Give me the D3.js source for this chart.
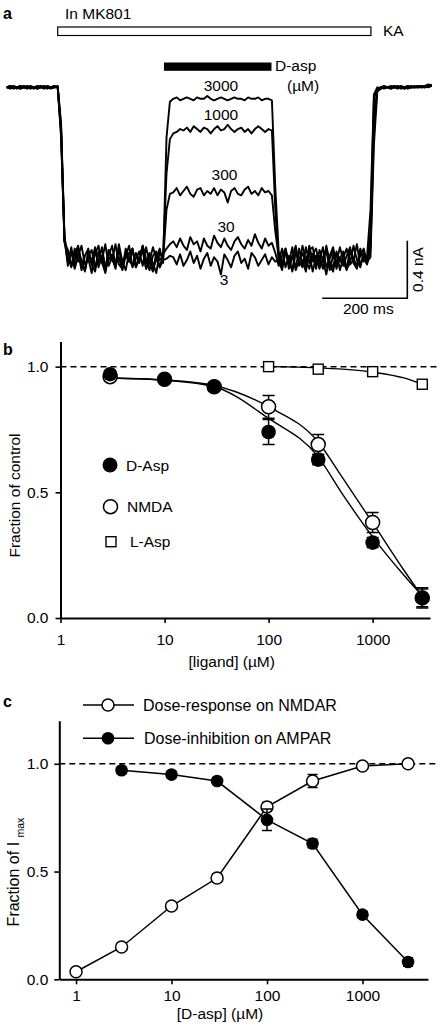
<!DOCTYPE html>
<html><head><meta charset="utf-8">
<script src="https://cdn.jsdelivr.net/npm/d3@7"></script>
<style>
body{margin:0;background:#fff}
svg{display:block}
text{font-family:"Liberation Sans",Arial,Helvetica,sans-serif;font-size:15.5px;fill:#000}
</style>
</head><body>
<svg id="fig" width="442" height="1026"></svg>
<script>
// ---------------- Panel a: current traces (units of 10 pA, one sample every 8 ms) ----------------
const traceStepMs = 8;
const trace3000 = [0,1,0,-1,0,1,0,0,-1,0,1,0,-1,0,1,0,
 -35,-108,
 -113,-124,-116,-110,-122,-127,-114,-121,-111,-125,-117,-128,-113,-120,-109,-123,-126,-115,-121,-112,-125,-118,-110,-123,-115,-127,-119,-112,-122,
 -35,-10,
 -8,-7,-9,-8,-7,-8,-9,-7,-8,-8,-6,-8,-9,-8,-7,-8,-9,-8,-7,-8,-8,-9,-7,-8,-8,-7,-9,-8,-8,-9,
 -70,
 -114,-123,-112,-126,-118,-110,-124,-120,-128,-113,-111,-123,-117,-126,-110,-121,-125,-114,-127,-118,-112,-123,-120,-109,-124,-116,-122,
 -100,-8,
 -1,0,1,0,0,1,0,-1,0,1,0,0,1,0,1,2,1];
const trace1000 = [0,0,1,0,-1,0,0,1,0,-1,0,0,1,0,0,0,
 -30,-106,
 -122,-111,-125,-115,-127,-117,-112,-123,-128,-114,-120,-109,-124,-118,-126,-112,-121,-117,-110,-125,-119,-114,-124,-111,-122,-128,-115,-120,-117,
 -60,-36,
 -32,-31,-29,-30,-28,-31,-27,-29,-31,-28,-29,-32,-29,-27,-30,-29,-26,-29,-31,-29,-28,-31,-29,-32,-29,-27,-29,-31,-29,-30,
 -85,
 -121,-112,-125,-117,-128,-114,-122,-110,-120,-126,-116,-112,-124,-119,-113,-127,-117,-122,-111,-120,-126,-114,-119,-124,-112,-121,-117,
 -85,-5,
 0,-1,0,0,1,0,-1,0,0,1,0,0,0,1,0,1,1];
const trace300 = [0,-1,0,0,1,0,-1,0,0,1,0,-1,0,0,1,0,
 -32,-107,
 -116,-124,-120,-111,-122,-127,-117,-113,-125,-115,-121,-129,-117,-110,-123,-118,-126,-112,-120,-124,-115,-122,-110,-119,-127,-117,-114,-125,-120,
 -85,-74,
 -73,-70,-75,-72,-69,-74,-76,-71,-70,-75,-72,-74,-70,-75,-71,-73,-80,-72,-70,-74,-75,-71,-69,-74,-72,-75,-70,-73,-72,-75,
 -100,
 -118,-125,-114,-122,-111,-127,-120,-115,-124,-110,-121,-117,-126,-119,-112,-123,-128,-115,-120,-124,-117,-111,-122,-126,-114,-119,-123,
 -110,-20,
 -2,-1,0,0,-1,0,1,0,-1,0,0,1,0,0,1,0,1];
const trace30 = [0,0,-1,0,1,0,0,-1,0,0,1,0,0,-1,0,0,
 -28,-105,
 -124,-114,-126,-117,-110,-123,-119,-129,-113,-122,-111,-125,-120,-116,-124,-109,-121,-127,-115,-112,-124,-118,-114,-126,-121,-111,-119,-125,-116,
 -112,-109,
 -107,-111,-105,-110,-113,-104,-109,-107,-114,-105,-110,-112,-103,-108,-111,-105,-110,-113,-107,-104,-109,-112,-106,-110,-102,-108,-112,-105,-110,-108,
 -115,
 -124,-117,-112,-121,-127,-114,-120,-125,-111,-122,-116,-126,-113,-120,-130,-117,-111,-124,-119,-114,-126,-122,-110,-120,-125,-115,-121,
 -118,-40,
 -3,-1,0,0,-1,0,0,1,0,-1,0,0,1,0,0,1,1];
const trace3 = [0,1,0,0,-1,0,1,0,0,-1,0,1,0,0,0,1,
 -25,-104,
 -117,-125,-112,-121,-119,-128,-114,-123,-116,-110,-122,-126,-113,-120,-124,-111,-127,-117,-121,-113,-125,-119,-111,-126,-116,-122,-129,-114,-120,
 -119,-117,
 -118,-123,-116,-124,-120,-114,-122,-117,-126,-119,-115,-124,-118,-121,-130,-116,-120,-125,-117,-114,-122,-119,-126,-115,-118,-124,-120,-116,-123,-118,
 -121,
 -120,-127,-114,-122,-117,-126,-112,-124,-119,-115,-128,-117,-121,-111,-125,-119,-114,-126,-118,-121,-127,-113,-120,-124,-117,-112,-122,
 -112,-30,
 -2,0,-1,0,0,1,0,0,-1,0,1,0,0,1,0,1,2];
const traceConcLabels = ["3000","1000","300","30","3"];
const kaBarMs = [120, 857];
const dAspBarMs = [370, 623];
const scaleBarMs = 200;
const scaleBarCurrent = 40; // 0.4 nA in 10 pA units

// ---------------- Panel b ----------------
const bConc = [3,10,30,100,300,1000,3000];
const bDAsp = [0.97,0.95,0.92,0.74,0.63,0.30,0.08];
const bDAspErr = [0.01,0.01,0.01,0.05,0.02,0.02,0.04];
const bNMDA = [0.96,0.95,0.92,0.84,0.69,0.38,0.08];
const bNMDAErr = [0.01,0.01,0.01,0.045,0.04,0.04,0.035];
const bLAspConc = [100,300,1000,3000];
const bLAsp = [1.0,0.99,0.98,0.93];
const bFitConc = [3,10,30,100,300,500,1000,2000,3000];
const bDAspFit = [0.955,0.946,0.92,0.794,0.641,0.50,0.323,0.17,0.088];
const bNMDAFit = [0.955,0.947,0.925,0.84,0.70,0.565,0.379,0.19,0.085];
const bLAspFitConc = [100,300,1000,2000,3000];
const bLAspFit = [1.0,0.995,0.978,0.955,0.93];
const bXTicks = [1,10,100,1000];
const yTicks = [0,0.5,1.0];

// ---------------- Panel c ----------------
const cNMDARConc = [1,3,10,30,100,300,1000,3000];
const cNMDAR = [0.035,0.15,0.34,0.47,0.80,0.92,0.99,1.0];
const cNMDARErr = [0.01,0.015,0.015,0.02,0.02,0.03,0.01,0.005];
const cAMPARConc = [3,10,30,100,300,1000,3000];
const cAMPAR = [0.97,0.95,0.92,0.74,0.63,0.30,0.08];
const cAMPARErr = [0.015,0.015,0.015,0.05,0.02,0.015,0.02];
const cXTicks = [1,10,100,1000];

const svg = d3.select("#fig");

// ===== Panel a =====
const xA = d3.scaleLinear().domain([0,1000]).range([6.7,431.7]);
const yA = d3.scaleLinear().domain([-120,0]).range([260.1,87.3]);
const traceLine = d3.line().x((d,i)=>xA(i*traceStepMs)).y(d=>yA(d));
[trace3000,trace1000,trace300,trace30,trace3].forEach(tr=>{
  svg.append("path").attr("d",traceLine(tr)).attr("fill","none")
    .attr("stroke","#000").attr("stroke-width",1.9).attr("stroke-linejoin","round");
});
svg.append("text").attr("x",3).attr("y",19).attr("font-weight","bold").style("font-size","16px").text("a");
svg.append("text").attr("x",65).attr("y",19).text("In MK801");
svg.append("rect").attr("x",xA(kaBarMs[0])).attr("y",27).attr("width",xA(kaBarMs[1])-xA(kaBarMs[0])).attr("height",8.5)
  .attr("fill","#fff").attr("stroke","#000").attr("stroke-width",1.2);
svg.append("text").attr("x",383).attr("y",35.5).text("KA");
svg.append("rect").attr("x",xA(dAspBarMs[0])).attr("y",62.5).attr("width",xA(dAspBarMs[1])-xA(dAspBarMs[0])).attr("height",8.3).attr("fill","#000");
svg.append("text").attr("x",275).attr("y",71).text("D-asp");
svg.append("text").attr("x",287).attr("y",91).text("(\u00b5M)");
const labelPos = [[221,91],[221,120],[224.5,180],[226,232],[224,285]];
traceConcLabels.forEach((t,i)=>{
  svg.append("text").attr("x",labelPos[i][0]).attr("y",labelPos[i][1]).attr("text-anchor","middle").text(t);
});
// scale bar
const sbX = 407.3, sbY = 298.3;
const sbH = yA(-scaleBarCurrent)-yA(0);
const sbW = xA(scaleBarMs)-xA(0);
svg.append("path").attr("d",`M${sbX-sbW},${sbY}H${sbX}V${sbY-sbH}`).attr("fill","none").attr("stroke","#000").attr("stroke-width",1.6);
svg.append("text").attr("x",368.3).attr("y",313.5).attr("text-anchor","middle").text("200 ms");
svg.append("text").attr("transform",`translate(423,${sbY-sbH/2}) rotate(-90)`).attr("text-anchor","middle").text("0.4 nA");

function styleAxis(g){
  g.selectAll("path.domain").attr("stroke-width",2);
  g.selectAll(".tick line").attr("stroke-width",1.6);
  g.selectAll("text").attr("font-family",null).attr("font-size",null).style("font-size","15.5px");
  g.attr("font-family",null).attr("font-size",null);
}
function errorBars(g, xs, ys, es, xS, yS, cap){
  xs.forEach((c,i)=>{
    const x = xS(c), y1 = yS(ys[i]-es[i]), y2 = yS(ys[i]+es[i]);
    g.append("path").attr("d",`M${x},${y1}V${y2}M${x-cap/2},${y1}H${x+cap/2}M${x-cap/2},${y2}H${x+cap/2}`)
      .attr("stroke","#000").attr("stroke-width",1.5).attr("fill","none");
  });
}

// ===== Panel b =====
const xB = d3.scaleLog().domain([1,3560]).range([60.5,430]);
const yB = d3.scaleLinear().domain([0,1.1]).range([618,341.5]);
const gb = svg.append("g");
gb.append("text").attr("x",3).attr("y",355).attr("font-weight","bold").style("font-size","16px").text("b");
gb.append("line").attr("x1",xB(1)).attr("x2",440).attr("y1",yB(1)).attr("y2",yB(1))
  .attr("stroke","#000").attr("stroke-width",1.5).attr("stroke-dasharray","6,4");
const axBx = gb.append("g").attr("transform",`translate(0,${yB(0)})`)
  .call(d3.axisBottom(xB).tickValues(bXTicks).tickFormat(d3.format("d")).tickSize(5).tickSizeOuter(0).tickPadding(11));
styleAxis(axBx);
const axBy = gb.append("g").attr("transform",`translate(${xB(1)},0)`)
  .call(d3.axisLeft(yB).tickValues(yTicks).tickFormat(d3.format(".1f")).tickSize(5).tickSizeOuter(0).tickPadding(7));
styleAxis(axBy);
gb.append("text").attr("x",231.7).attr("y",667).attr("text-anchor","middle").text("[ligand] (\u00b5M)");
gb.append("text").attr("transform","translate(20,495.5) rotate(-90)").attr("text-anchor","middle").text("Fraction of control");
const lineB = (xs)=>d3.line().curve(d3.curveMonotoneX).x((d,i)=>xB(xs[i])).y(d=>yB(d));
[[bFitConc,bDAspFit],[bFitConc,bNMDAFit],[bLAspFitConc,bLAspFit]].forEach(([xs,ys])=>{
  gb.append("path").attr("d",lineB(xs)(ys)).attr("fill","none").attr("stroke","#000").attr("stroke-width",1.4);
});
errorBars(gb,bConc,bNMDA,bNMDAErr,xB,yB,12);
bConc.forEach((c,i)=>gb.append("circle").attr("cx",xB(c)).attr("cy",yB(bNMDA[i])).attr("r",7).attr("fill","#fff").attr("stroke","#000").attr("stroke-width",1.5));
errorBars(gb,bConc,bDAsp,bDAspErr,xB,yB,12);
bConc.forEach((c,i)=>gb.append("circle").attr("cx",xB(c)).attr("cy",yB(bDAsp[i])).attr("r",7.3).attr("fill","#000"));
bLAspConc.forEach((c,i)=>gb.append("rect").attr("x",xB(c)-5).attr("y",yB(bLAsp[i])-5).attr("width",10).attr("height",10)
  .attr("fill","#fff").attr("stroke","#000").attr("stroke-width",1.4));
// legend b
gb.append("circle").attr("cx",110).attr("cy",465).attr("r",7.5).attr("fill","#000");
gb.append("text").attr("x",126).attr("y",470.5).text("D-Asp");
gb.append("circle").attr("cx",110.5).attr("cy",506.7).attr("r",7).attr("fill","#fff").attr("stroke","#000").attr("stroke-width",1.5);
gb.append("text").attr("x",127).attr("y",512).text("NMDA");
gb.append("rect").attr("x",106).attr("y",536.7).attr("width",10).attr("height",10).attr("fill","#fff").attr("stroke","#000").attr("stroke-width",1.4);
gb.append("text").attr("x",130).attr("y",547).text("L-Asp");

// ===== Panel c =====
const xC = d3.scaleLog().domain([0.668,4853]).range([59.3,428]);
const yC = d3.scaleLinear().domain([0,1.2]).range([979.3,720.7]);
const gc = svg.append("g");
gc.append("text").attr("x",3).attr("y",707).attr("font-weight","bold").style("font-size","16px").text("c");
gc.append("line").attr("x1",xC.range()[0]).attr("x2",437).attr("y1",yC(1)).attr("y2",yC(1))
  .attr("stroke","#000").attr("stroke-width",1.5).attr("stroke-dasharray","6,4");
const axCx = gc.append("g").attr("transform",`translate(0,${yC(0)})`)
  .call(d3.axisBottom(xC).tickValues(cXTicks).tickFormat(d3.format("d")).tickSize(5).tickSizeOuter(0).tickPadding(6));
styleAxis(axCx);
const axCy = gc.append("g").attr("transform",`translate(${xC.range()[0]},0)`)
  .call(d3.axisLeft(yC).tickValues(yTicks).tickFormat(d3.format(".1f")).tickSize(5).tickSizeOuter(0).tickPadding(6));
styleAxis(axCy);
gc.append("text").attr("x",220).attr("y",1018.5).attr("text-anchor","middle").text("[D-asp] (\u00b5M)");
const ct = gc.append("text").attr("transform","translate(18.5,872) rotate(-90)").attr("text-anchor","middle").style("font-size","16px");
ct.append("tspan").text("Fraction of I ");
ct.append("tspan").attr("dy",5.5).style("font-size","10.5px").text("max");
const lineC = (xs)=>d3.line().x((d,i)=>xC(xs[i])).y(d=>yC(d));
gc.append("path").attr("d",lineC(cNMDARConc)(cNMDAR)).attr("fill","none").attr("stroke","#000").attr("stroke-width",1.5);
gc.append("path").attr("d",lineC(cAMPARConc)(cAMPAR)).attr("fill","none").attr("stroke","#000").attr("stroke-width",1.5);
errorBars(gc,cNMDARConc,cNMDAR,cNMDARErr,xC,yC,10);
cNMDARConc.forEach((c,i)=>gc.append("circle").attr("cx",xC(c)).attr("cy",yC(cNMDAR[i])).attr("r",6).attr("fill","#fff").attr("stroke","#000").attr("stroke-width",1.5));
errorBars(gc,cAMPARConc,cAMPAR,cAMPARErr,xC,yC,10);
cAMPARConc.forEach((c,i)=>gc.append("circle").attr("cx",xC(c)).attr("cy",yC(cAMPAR[i])).attr("r",6.3).attr("fill","#000"));
// legend c
gc.append("line").attr("x1",83).attr("x2",134).attr("y1",705).attr("y2",705).attr("stroke","#000").attr("stroke-width",1.5);
gc.append("circle").attr("cx",108).attr("cy",705).attr("r",6).attr("fill","#fff").attr("stroke","#000").attr("stroke-width",1.5);
gc.append("text").attr("x",143).attr("y",710.5).style("font-size","16px").text("Dose-response on NMDAR");
gc.append("line").attr("x1",83).attr("x2",134).attr("y1",738.3).attr("y2",738.3).attr("stroke","#000").attr("stroke-width",1.5);
gc.append("circle").attr("cx",108).attr("cy",738.3).attr("r",6.3).attr("fill","#000");
gc.append("text").attr("x",144).attr("y",744).style("font-size","16px").text("Dose-inhibition on AMPAR");
</script>
</body></html>
